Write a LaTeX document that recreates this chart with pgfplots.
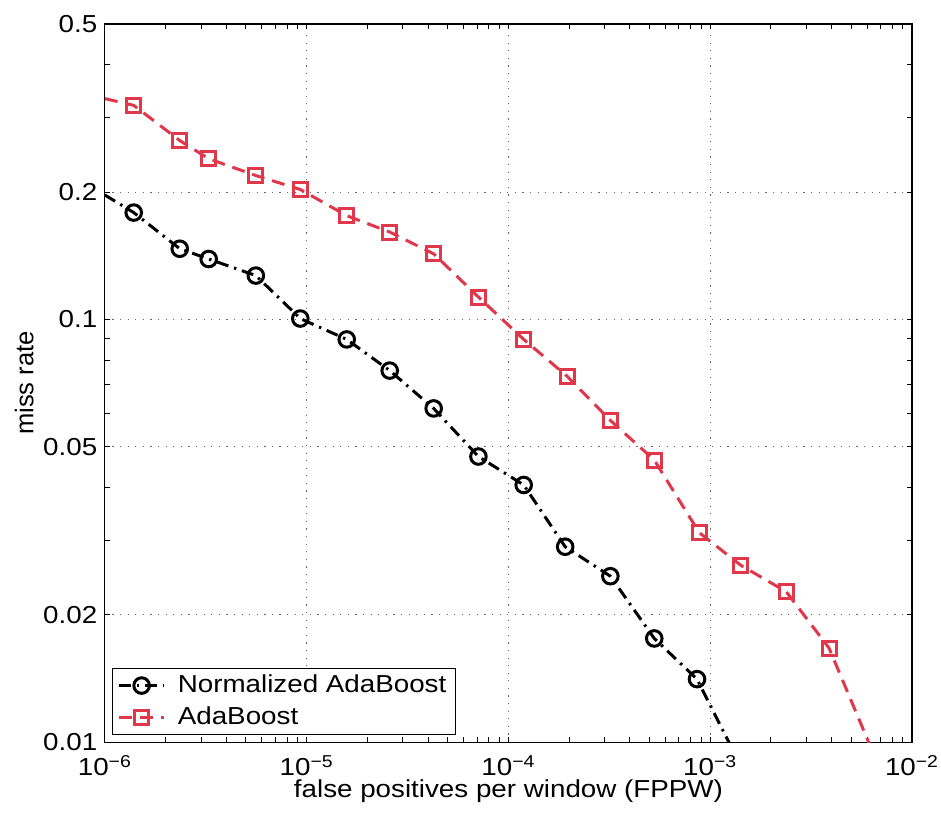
\documentclass[border=0pt]{standalone}
\usepackage{fontspec}
\setmainfont[FakeStretch=1.13]{Liberation Sans}
\newfontfamily\ylabfont{Liberation Sans}
\usepackage{pgfplots}
\pgfplotsset{compat=1.18}
\definecolor{adared}{RGB}{225,55,75}
\begin{document}
\begin{tikzpicture}
\begin{axis}[
  scale only axis,
  width=404pt, height=359.5pt,
  xmode=log, ymode=log,
  xmin=1e-6, xmax=1e-2,
  ymin=0.01, ymax=0.5,
  xtick={1e-6,1e-5,1e-4,1e-3,1e-2},
  xticklabels={10\textsuperscript{−6},10\textsuperscript{−5},10\textsuperscript{−4},10\textsuperscript{−3},10\textsuperscript{−2}},
  ytick={0.01,0.02,0.05,0.1,0.2,0.5},
  yticklabels={0.01,0.02,0.05,0.1,0.2,0.5},
  minor ytick={0.03,0.04,0.06,0.07,0.08,0.09,0.3,0.4},
  tick align=inside,
  major tick length=2.5pt, minor tick length=2.5pt,
  tick style={black, line width=0.5pt},
  xtick pos=both, ytick pos=both,
  grid=major,
  major grid style={black!60, line width=0.5pt, dash pattern=on 0.6pt off 3.2pt},
  axis line style={black, line width=0.6pt},
  ticklabel style={font=\fontsize{12.3}{14}\selectfont},
  yticklabel style={xshift=-0.3pt},
  xticklabel style={yshift=-3pt},
  xlabel={false positives per window (FPPW)},
  ylabel={miss rate},
  xlabel style={at={(axis description cs:0.5,-0.068)}, anchor=center, font=\fontsize{12.3}{14}\selectfont},
  ylabel style={at={(axis description cs:-0.1,0.5)}, anchor=center, font=\ylabfont\fontsize{12.8}{14}\selectfont},
  legend style={at={(rel axis cs:0.0087,0.0097)}, anchor=south west,
    draw=black, line width=0.5pt, font=\fontsize{12.3}{14}\selectfont,
    inner xsep=2.5pt, inner ysep=1.5pt, row sep=1.5pt, column sep=4pt,
    nodes={inner sep=2pt}, cells={anchor=west}},
  legend image code/.code={%
    \draw[#1, mark indices={2}] plot coordinates {(0cm,0cm) (0.4cm,0cm) (0.8cm,0cm)};},
]
\addplot[black, line width=1.5pt, dash pattern=on 6pt off 3pt on 1.2pt off 3pt,
  mark=o, mark size=3.9pt, mark indices={2,...,15}, mark options={solid, line width=1.5pt}]
coordinates {
(1e-6,0.197)
(1.39e-6,0.179)
(2.35e-6,0.147)
(3.27e-6,0.139)
(5.6e-6,0.127)
(9.3e-6,0.1005)
(1.58e-5,0.0897)
(2.58e-5,0.0757)
(4.26e-5,0.0616)
(7.1e-5,0.0474)
(1.19e-4,0.0406)
(1.91e-4,0.0290)
(3.2e-4,0.0247)
(5.28e-4,0.0176)
(8.6e-4,0.0141)
(1.25e-3,0.0099)
};
\addlegendentry{Normalized AdaBoost}
\addplot[adared, line width=1.5pt, dash pattern=on 6.5pt off 4pt,
  mark=square, mark size=3.5pt, mark indices={2,...,18}, mark options={solid, line width=1.5pt}]
coordinates {
(1e-6,0.333)
(1.39e-6,0.321)
(2.35e-6,0.265)
(3.27e-6,0.240)
(5.6e-6,0.219)
(9.3e-6,0.203)
(1.58e-5,0.176)
(2.58e-5,0.161)
(4.26e-5,0.143)
(7.1e-5,0.113)
(1.19e-4,0.0897)
(1.96e-4,0.0733)
(3.2e-4,0.0577)
(5.28e-4,0.0465)
(8.83e-4,0.0313)
(1.42e-3,0.0262)
(2.38e-3,0.0227)
(3.88e-3,0.0167)
(6.15e-3,0.0099)
};
\addlegendentry{AdaBoost}
\end{axis}
\pgfresetboundingbox
\path (current axis.south west) +(-52.5pt,-36.5pt) (current axis.north east) +(14.5pt,12pt);
\end{tikzpicture}
\end{document}
